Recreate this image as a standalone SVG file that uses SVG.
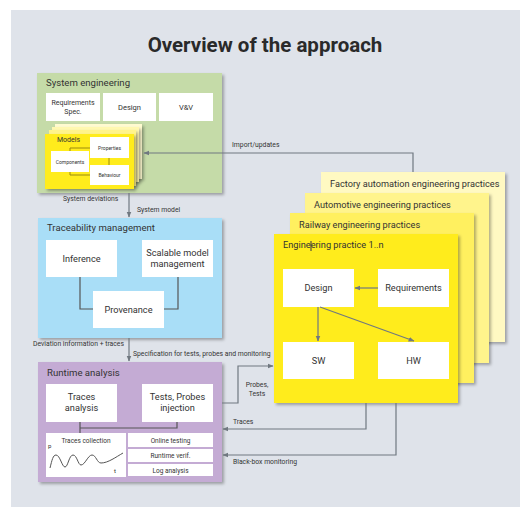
<svg xmlns="http://www.w3.org/2000/svg" width="520" height="507" viewBox="0 0 520 507">
<defs>
<filter id="sh" x="-10%" y="-10%" width="130%" height="130%">
<feDropShadow dx="2" dy="2" stdDeviation="1.5" flood-color="#000" flood-opacity="0.3"/>
</filter>
<marker id="ar" viewBox="0 0 10 10" refX="9" refY="5" markerWidth="5" markerHeight="5" orient="auto-start-reverse">
<path d="M0,1 L10,5 L0,9 z" fill="#707880"/>
</marker>
<style>
text{font-family:Roboto,"Liberation Sans",sans-serif;fill:#333;}
.w{fill:#fff;}
.ln{fill:none;stroke:#707880;stroke-width:1.2;}
.il{fill:none;stroke:#555;stroke-width:1.2;}
.ml{fill:none;stroke:#9a8a10;stroke-width:1;}
.h{font-size:9.6px;}
.s{font-size:6.8px;}
.c{text-anchor:middle;}
.b{font-size:9.2px;}
</style>
</defs>
<rect x="11" y="10" width="509" height="497" fill="#dfe3ea"/>
<text x="265" y="52" class="c" style="font-size:20.5px;font-weight:bold;fill:#2a2a2a">Overview of the approach</text>

<g id="system-engineering">
<rect x="37" y="73" width="185" height="120" fill="#c5dba8" filter="url(#sh)"/>
<text x="46" y="86" class="h">System engineering</text>
<rect x="46" y="93" width="54" height="28" class="w"/>
<text x="73" y="105" class="c" style="font-size:7px">Requirements</text>
<text x="73" y="114" class="c" style="font-size:7px">Spec.</text>
<rect x="103" y="93" width="53" height="28" class="w"/>
<text x="129.5" y="110" class="c" style="font-size:7.5px">Design</text>
<rect x="159" y="93" width="54" height="28" class="w"/>
<text x="186" y="110" class="c" style="font-size:7.5px">V&amp;V</text>
</g>

<g id="models">
<rect x="55" y="124" width="87" height="55" fill="#fffbd0" filter="url(#sh)"/>
<rect x="52" y="127" width="87" height="55" fill="#fff8b0" filter="url(#sh)"/>
<rect x="49" y="130" width="87" height="56" fill="#fff48a" filter="url(#sh)"/>
<rect x="45" y="134" width="89" height="55" fill="#ffec1c" filter="url(#sh)"/>
<text x="57" y="142" style="font-size:7px">Models</text>
<path d="M70,151 V148 H90 M70,172 V175 H90 M109,158 V165" class="ml"/>
<rect x="51" y="151" width="38" height="21" class="w"/>
<text x="70" y="164" class="c" style="font-size:5px">Components</text>
<rect x="90" y="137" width="39" height="21" class="w"/>
<text x="109.5" y="149.5" class="c" style="font-size:5px">Properties</text>
<rect x="90" y="165" width="39" height="20" class="w"/>
<text x="109.5" y="177" class="c" style="font-size:5px">Behaviour</text>
</g>

<g id="traceability-management">
<rect x="38" y="218" width="184" height="120" fill="#a9def7" filter="url(#sh)"/>
<text x="47" y="231" class="h">Traceability management</text>
<path d="M80,277 V309 H93 M178,277 V309 H164" class="il"/>
<rect x="46" y="240" width="71" height="37" class="w"/>
<text x="81.5" y="261.5" class="c b">Inference</text>
<rect x="142" y="240" width="71" height="37" class="w"/>
<text x="177.5" y="256" class="c b">Scalable model</text>
<text x="177.5" y="267" class="c b">management</text>
<rect x="93" y="291" width="71" height="37" class="w"/>
<text x="128.5" y="312.5" class="c b">Provenance</text>
</g>

<g id="runtime-analysis">
<rect x="38" y="362" width="184" height="120" fill="#c4abd4" filter="url(#sh)"/>
<text x="47" y="376" class="h">Runtime analysis</text>
<path d="M80,422 V433 M80,428 H177 V422" class="il"/>
<rect x="46" y="384" width="71" height="38" class="w"/>
<text x="81.5" y="400" class="c b">Traces</text>
<text x="81.5" y="411" class="c b">analysis</text>
<rect x="142" y="384" width="71" height="38" class="w"/>
<text x="177.5" y="400" class="c b">Tests, Probes</text>
<text x="177.5" y="411" class="c b">injection</text>
<rect x="46" y="433" width="80" height="44" class="w"/>
<text x="86" y="442.5" class="c" style="font-size:6.5px">Traces collection</text>
<text x="48" y="448" style="font-size:6px">p</text>
<text x="114" y="473" style="font-size:6px">t</text>
<path d="M50,468 C52,460 53,455 56,455 C60,455 62,467 65,467 C68,467 69,455 73,455 C77,455 78,465 81,465 C85,465 88,455 92,455 C96,455 97,463 101,463 C108,463 116,457 123,453" fill="none" stroke="#555" stroke-width="1"/>
<rect x="128" y="433" width="85" height="14" class="w"/>
<text x="170.5" y="442.5" class="c" style="font-size:6.5px">Online testing</text>
<rect x="128" y="449" width="85" height="13" class="w"/>
<text x="170.5" y="458" class="c" style="font-size:6.5px">Runtime verif.</text>
<rect x="128" y="464" width="85" height="12" class="w"/>
<text x="170.5" y="472.5" class="c" style="font-size:6.5px">Log analysis</text>
</g>

<g id="factory-automation">
<rect x="321" y="172" width="184" height="170" fill="#fff9c2" filter="url(#sh)"/>
<text x="330" y="187" class="b">Factory automation engineering practices</text>
</g>
<g id="automotive">
<rect x="305" y="193" width="184" height="170" fill="#fff48c" filter="url(#sh)"/>
<text x="314" y="208" class="b">Automotive engineering practices</text>
</g>
<g id="railway">
<rect x="290" y="213" width="184" height="170" fill="#fff05e" filter="url(#sh)"/>
<text x="299" y="228" class="b">Railway engineering practices</text>
</g>
<g id="engineering-practice">
<rect x="274" y="234" width="184" height="169" fill="#ffec1c" filter="url(#sh)"/>
<text x="283" y="248" class="b">Engineering practice 1..n</text>
<line x1="311" y1="241" x2="311" y2="251" stroke="#334" stroke-width="1"/>
<rect x="283" y="269" width="71" height="38" class="w"/>
<text x="318.5" y="291" class="c b">Design</text>
<rect x="378" y="269" width="71" height="38" class="w"/>
<text x="413.5" y="291" class="c b">Requirements</text>
<rect x="283" y="342" width="71" height="37" class="w"/>
<text x="318.5" y="364" class="c b">SW</text>
<rect x="378" y="342" width="71" height="37" class="w"/>
<text x="413.5" y="364" class="c b">HW</text>
<path d="M378,288 H355" class="ln" marker-end="url(#ar)"/>
<path d="M318,307 V341" class="ln" marker-end="url(#ar)"/>
<path d="M320,307 L414,341" class="ln" marker-end="url(#ar)"/>
</g>

<g id="connectors">
<path d="M413,172 V153 H144" class="ln" marker-end="url(#ar)"/>
<path d="M129,193 V217" class="ln" marker-end="url(#ar)"/>
<path d="M129,338 V361" class="ln" marker-end="url(#ar)"/>
<path d="M222,403 H238 V366 H273" class="ln" marker-end="url(#ar)"/>
<path d="M366,403 V429 H223" class="ln" marker-end="url(#ar)"/>
<path d="M396,403 V455 H223" class="ln" marker-end="url(#ar)"/>
<text x="232" y="147" class="s">Import/updates</text>
<text x="63" y="201" class="s">System deviations</text>
<text x="137" y="212" class="s">System model</text>
<text x="33" y="346" class="s">Deviation information + traces</text>
<text x="133" y="356" class="s">Specification for tests, probes and monitoring</text>
<text x="257" y="387" class="s c">Probes,</text>
<text x="257" y="396" class="s c">Tests</text>
<text x="233" y="424" class="s">Traces</text>
<text x="233" y="464" class="s">Black-box monitoring</text>
</g>
</svg>
